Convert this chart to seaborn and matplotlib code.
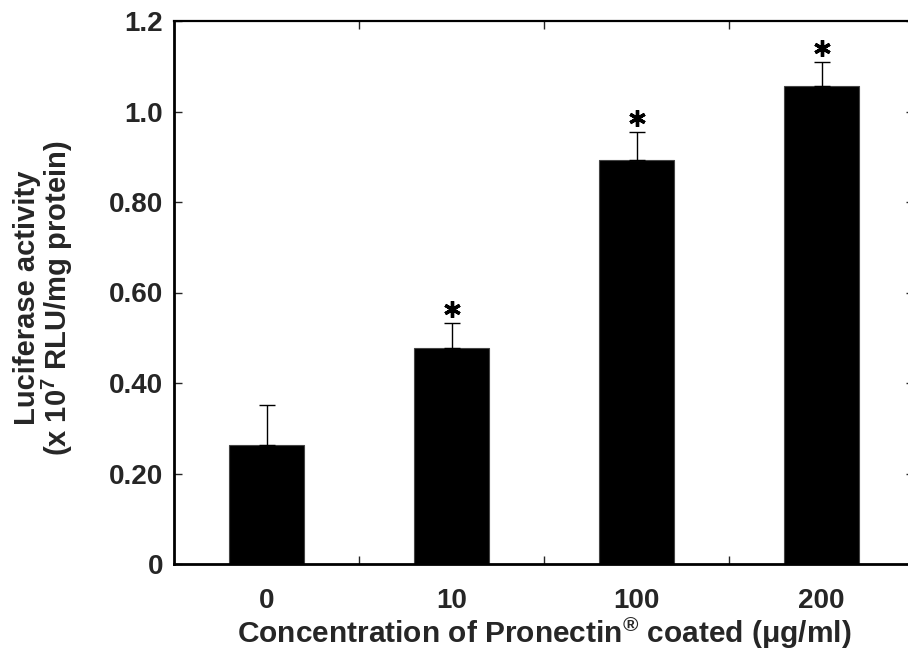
import matplotlib
matplotlib.use("Agg")
import matplotlib.pyplot as plt
import seaborn as sns
import pandas as pd

categories = ["0", "10", "100", "200"]
means = [0.263, 0.478, 0.893, 1.056]
errors = [0.088, 0.055, 0.062, 0.053]
significant = [False, True, True, True]
yticks = [0, 0.2, 0.4, 0.6, 0.8, 1.0, 1.2]
ytick_labels = ["0", "0.20", "0.40", "0.60", "0.80", "1.0", "1.2"]

sns.set_theme(style="ticks")
plt.rcParams['font.family'] = ['Liberation Sans', 'DejaVu Sans']
plt.rcParams['mathtext.fontset'] = 'custom'
plt.rcParams['mathtext.rm'] = 'Liberation Sans:bold'
plt.rcParams['mathtext.it'] = 'Liberation Sans:bold'
plt.rcParams['mathtext.bf'] = 'Liberation Sans:bold'

df = pd.DataFrame({"conc": categories, "value": means})

fig = plt.figure(figsize=(9.08, 6.53), dpi=100)
ax = fig.add_axes([174 / 908, 89 / 653, 740 / 908, 543 / 653])

sns.barplot(data=df, x="conc", y="value", color="black", width=0.41,
            saturation=1, ax=ax, errorbar=None, edgecolor="#444444", linewidth=0.8)

xs = list(range(len(categories)))
ax.errorbar(xs, means, yerr=[[0] * len(errors), errors], fmt="none",
            ecolor="black", elinewidth=1.0, capsize=6, capthick=1.0, zorder=3)

# significance asterisks placed just above the error caps
px_per_unit = (543 / 1.2)
sx = [x for x, s in zip(xs, significant) if s]
sy = [m + e + 14 / px_per_unit for m, e, s in zip(means, errors, significant) if s]
ax.plot(sx, sy, linestyle="none", marker=(6, 2, 0), markersize=12,
        markeredgewidth=2.4, color="black", zorder=4, clip_on=False)

ax.set_xlim(-0.5, 3.5)
ax.set_ylim(0, 1.2)
ax.set_yticks(yticks)
ax.set_yticklabels(ytick_labels)
ax.set_xticks(xs)
ax.set_xticklabels(categories)
ax.tick_params(axis="x", which="major", length=0, pad=17, labelsize=20)
ax.set_xticks([0.5, 1.5, 2.5], minor=True)
ax.tick_params(axis="x", which="minor", direction="in", length=6, width=1,
               top=True, bottom=True)
ax.tick_params(axis="y", direction="in", length=6, width=1, right=True,
               labelsize=20, pad=8)
for lbl in ax.get_xticklabels() + ax.get_yticklabels():
    lbl.set_fontweight("bold")

for side in ["left", "bottom", "top", "right"]:
    ax.spines[side].set_visible(True)
    ax.spines[side].set_color("black")
ax.spines["left"].set_linewidth(2.0)
ax.spines["bottom"].set_linewidth(2.0)
ax.spines["top"].set_linewidth(1.6)
ax.spines["right"].set_linewidth(1.6)

ax.set_xlabel("Concentration of Pronectin$^{®}$ coated ($\\mu$g/ml)",
              fontsize=21.5, fontweight="bold", labelpad=1)
ax.set_ylabel("Luciferase activity\n(x 10$^{7}$ RLU/mg protein)",
              fontsize=21, fontweight="bold", labelpad=24, linespacing=0.95)
ax.yaxis.set_label_coords(-0.134, 0.49)

fig.savefig("out.png", dpi=100, facecolor="white")
